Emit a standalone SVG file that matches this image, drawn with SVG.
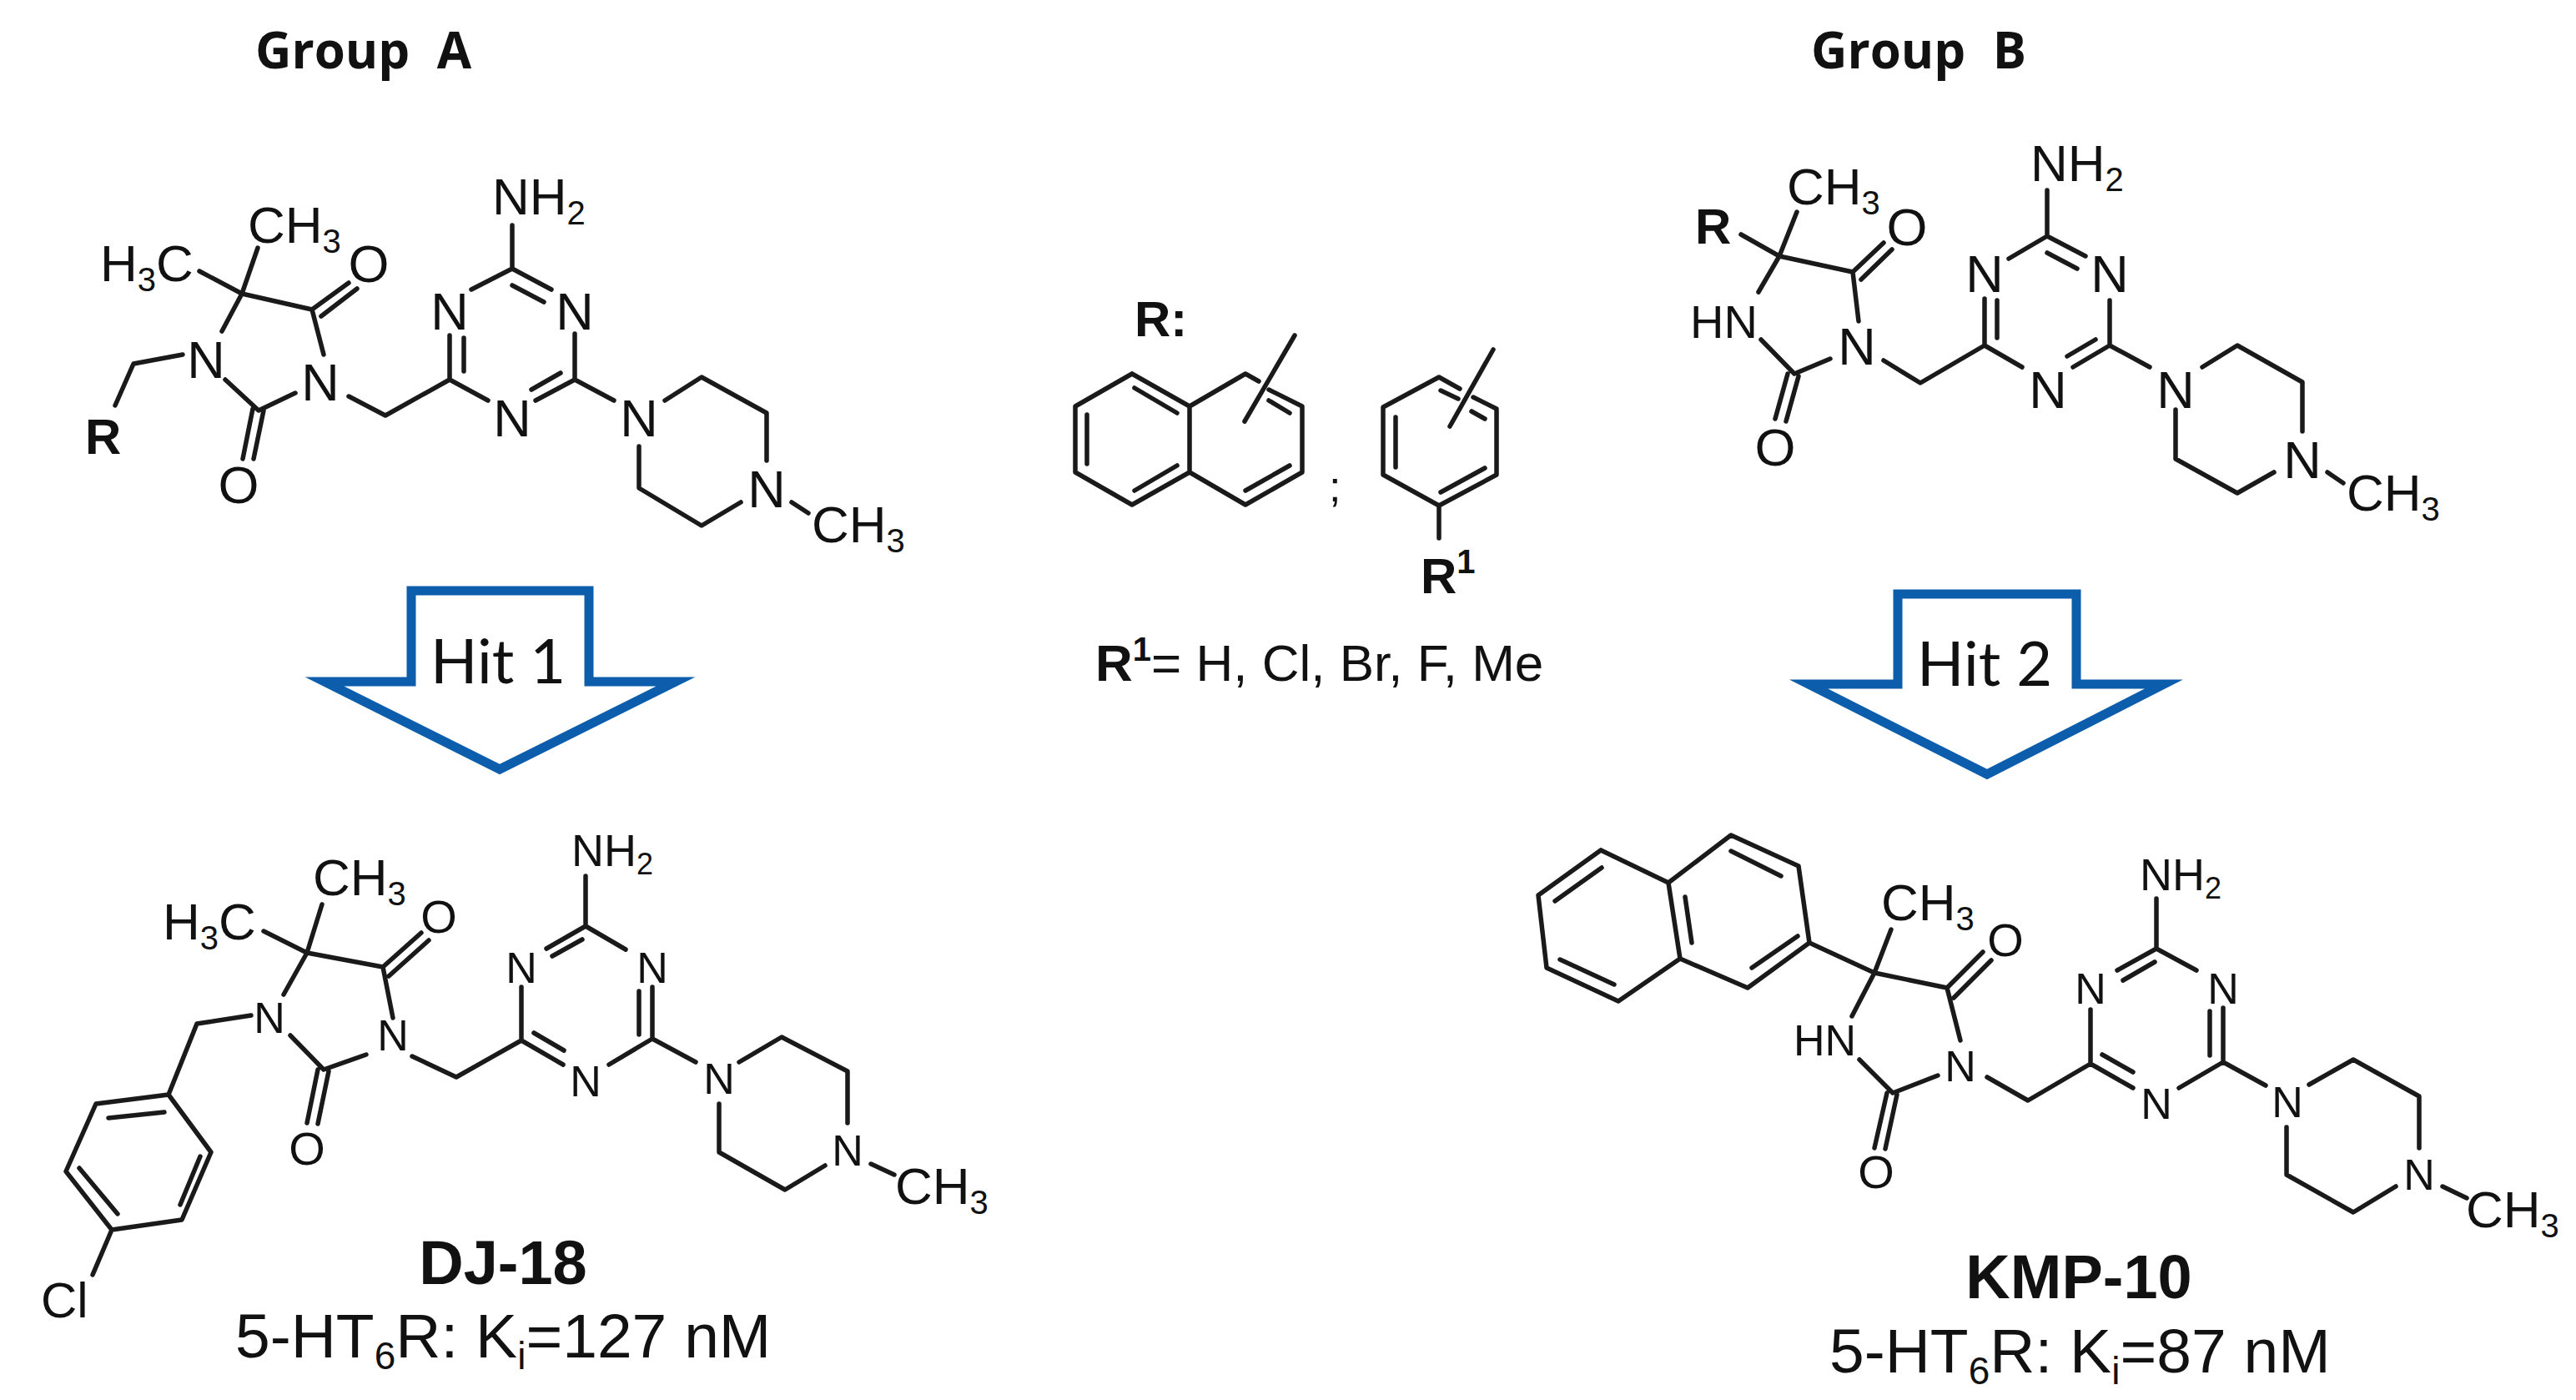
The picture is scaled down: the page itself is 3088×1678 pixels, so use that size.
<svg xmlns="http://www.w3.org/2000/svg" width="3088" height="1678" viewBox="0 0 3088 1678">
<style>
text{font-family:"Liberation Sans",Arial,sans-serif;fill:#111}
.b{fill:none;stroke:#1a1a1a;stroke-width:5.5;stroke-linecap:round;stroke-linejoin:round}
.a{fill:#fff;stroke:#0c5dab;stroke-width:11;stroke-linejoin:miter;stroke-miterlimit:10}
.title{font-family:"Open Sans",sans-serif;font-weight:700;font-size:60px;word-spacing:17px}
.hit{font-family:Lato,"Open Sans",sans-serif;font-size:74px}
.big{font-size:62px}.mid{font-size:54px}.sm{font-size:52px}.n58{font-size:63px;text-anchor:middle}.n48{font-size:52px;text-anchor:middle}.n52{font-size:56px;text-anchor:middle}
.r{font-weight:700;font-size:60px}
.name{font-weight:700;font-size:74px;text-anchor:middle}
.ki{font-size:75px}
.sub{font-size:40px}
.sub2{font-size:36px}
.subk{font-size:46px}
.lab{font-size:62px}
</style>
<rect width="3088" height="1678" fill="#fff"/>
<text class="title" x="306" y="82">Group A</text>
<text class="title" x="2171" y="82">Group B</text>
<g id="connectors">
<path id="arrow-hit1" class="a" d="M493 708H706V817H810L599 922L389 817H493Z"/>
<path id="arrow-hit2" class="a" d="M2275 712H2489V820H2594L2382 928L2168 820H2275Z"/>
</g>
<g id="hit-1"><text class="hit" x="516" y="819">Hit 1</text></g>
<g id="hit-2"><text class="hit" x="2298" y="822">Hit 2</text></g>
<g id="group-a-scaffold">
<path class="b" d="M290 352L239 325M290 352L309 297M290 352L266 397M270 455L310 492L354 471M388 425L374 371L290 352M374 371L418 339M385 379L428 346M303 490L291 550M316 492L304 550M219 425L160 436L138 486M418 475L462 498L539 455L539 402M556 405V445M539 455L585 480M642 480L689 455V400M672 447L637 467M565 347L614 322L661 347M614 342L652 362M614 322V270M736 480L689 455M797 480L841 452L919 495V552M888 602L841 630L766 585V535M949 602L969 615"/>
<text class="big" x="120" y="337">H<tspan class="sub" dy="12">3</tspan><tspan dy="-12">C</tspan></text>
<text class="big" x="297" y="291">CH<tspan class="sub" dy="12">3</tspan></text>
<text class="n58" x="442" y="338">O</text><text class="n58" x="286" y="603">O</text>
<text class="n58" x="247" y="453">N</text><text class="n58" x="384" y="480">N</text>
<text class="r" x="102" y="544">R</text>
<text class="n58" x="539" y="395">N</text><text class="n58" x="689" y="395">N</text><text class="n58" x="614" y="523">N</text>
<text class="big" x="590" y="257">NH<tspan class="sub" dy="12">2</tspan></text>
<text class="n58" x="766" y="523">N</text><text class="n58" x="919" y="608">N</text>
<text class="big" x="973" y="650">CH<tspan class="sub" dy="12">3</tspan></text>
</g>
<g id="r-substituents">
<text class="r" x="1360" y="403">R:</text>
<path class="b" d="M1357 448L1289 487V566L1357 605L1426 566L1493 605L1561 566V487L1521 467M1509 457L1493 448L1426 487L1357 448M1426 487V566M1360 465L1411 495M1303 497V556M1360 588L1411 558M1493 588L1546 558M1521 480L1546 495M1552 402L1492 505"/>
<text class="sm" x="1593" y="601">;</text>
<path class="b" d="M1750 466L1725 452L1658 488V569L1725 606L1794 569V490L1766 476M1673 500V560M1727 590L1780 561M1727 468L1748 478M1764 493L1780 502M1790 419L1738 511M1725 606V645"/>
<text class="r" x="1703" y="711">R<tspan class="sub" dy="-24" style="font-weight:700">1</tspan></text>
<text class="lab" x="1313" y="816"><tspan font-weight="700">R</tspan><tspan class="sub" font-weight="700" dy="-24">1</tspan><tspan dy="24">= H, Cl, Br, F, Me</tspan></text>
</g>
<g id="group-b-scaffold">
<path class="b" d="M2133 307L2087 281M2133 307L2154 254M2133 307L2108 350M2111 407L2151 448L2194 430M2228 385L2221 326L2133 307M2221 326L2258 291M2231 335L2268 299M2143 448L2128 502M2156 451L2141 505M2258 432L2302 459L2379 414V358M2394 360V405M2379 414L2424 440M2485 440L2529 414V360M2512 407L2478 427M2408 310L2454 283L2500 307M2454 303L2490 322M2454 283V228M2577 440L2529 414M2640 440L2682 414L2760 458V517M2726 566L2682 591L2608 550V491M2790 566L2809 579"/>
<text class="r" x="2032" y="292">R</text>
<text class="big" x="2142" y="245">CH<tspan class="sub" dy="12">3</tspan></text>
<text class="n58" x="2286" y="294">O</text><text class="n58" x="2128" y="558">O</text>
<text class="big" x="2026" y="405" style="font-size:56px">HN</text>
<text class="n58" x="2226" y="437">N</text>
<text class="n58" x="2379" y="350">N</text><text class="n58" x="2529" y="350">N</text><text class="n58" x="2455" y="489">N</text>
<text class="big" x="2434" y="217">NH<tspan class="sub" dy="12">2</tspan></text>
<text class="n58" x="2608" y="489">N</text><text class="n58" x="2760" y="573">N</text>
<text class="big" x="2813" y="612">CH<tspan class="sub" dy="12">3</tspan></text>
</g>
<g id="dj-18">
<path class="b" d="M368 1142L316 1116M368 1142L386 1084M368 1142L340 1192M348 1241L388 1282L439 1264M471 1220L459 1159L368 1142M459 1159L505 1118M466 1170L514 1127M381 1282L368 1346M394 1284L381 1347M301 1217L236 1227L202 1312L115 1323L79 1404L134 1474L218 1462L253 1381L202 1312M197 1333L130 1340M95 1400L141 1455M216 1444L240 1386M134 1474L111 1528M494 1266L547 1291L625 1247V1183M640 1238L676 1259M625 1247L675 1276M655 1137L702 1110L750 1138M698 1126L662 1146M782 1183V1245L730 1276M766 1188V1240M702 1110V1050M834 1273L782 1245M886 1273L937 1243L1016 1284V1346M989 1397L941 1426L862 1381V1323M1044 1395L1072 1408"/>
<text class="big" x="195" y="1126">H<tspan class="sub" dy="12">3</tspan><tspan dy="-12">C</tspan></text>
<text class="big" x="375" y="1073">CH<tspan class="sub" dy="12">3</tspan></text>
<text class="n52" x="526" y="1118">O</text><text class="n52" x="368" y="1396">O</text>
<text class="n48" x="323" y="1238">N</text><text class="n48" x="471" y="1259">N</text>
<text class="n48" x="625" y="1178">N</text><text class="n48" x="782" y="1178">N</text><text class="n48" x="702" y="1314">N</text>
<text class="mid" x="685" y="1038">NH<tspan class="sub2" dy="10">2</tspan></text>
<text class="n48" x="862" y="1311">N</text><text class="n48" x="1016" y="1397">N</text>
<text class="big" x="1073" y="1443">CH<tspan class="sub" dy="12">3</tspan></text>
<text x="49" y="1579" style="font-size:60px">Cl</text>
<text class="name" x="603" y="1539">DJ-18</text>
<text class="ki" x="282" y="1627">5-HT<tspan class="subk" dy="14">6</tspan><tspan dy="-14">R:  K</tspan><tspan class="subk" dy="14">i</tspan><tspan dy="-14">=127 nM</tspan></text>
</g>
<g id="kmp-10">
<path class="b" d="M1919 1019L1844 1073L1854 1160L1940 1200L2014 1149L2000 1058L1919 1019M2000 1058L2075 1001L2156 1038L2169 1130L2095 1184L2014 1149M1920 1040L1864 1080M1870 1150L1935 1180M2020 1075L2028 1130M2075 1020L2135 1050M2100 1160L2155 1122M2169 1130L2247 1166L2267 1114M2247 1166L2220 1218M2229 1270L2269 1310L2323 1289M2350 1247L2334 1184L2247 1166M2334 1184L2377 1141M2342 1196L2387 1151M2262 1310L2247 1376M2274 1312L2260 1377M2382 1291L2431 1319L2506 1275V1210M2520 1264L2557 1285M2506 1275L2557 1304M2538 1163L2585 1137L2633 1163M2583 1153L2545 1175M2665 1208V1273L2612 1304M2649 1212V1265M2585 1137V1077M2716 1301L2665 1273M2768 1300L2821 1270L2900 1314V1376M2872 1422L2821 1453L2741 1408V1351M2928 1422L2957 1436"/>
<text class="big" x="2255" y="1103">CH<tspan class="sub" dy="12">3</tspan></text>
<text class="n52" x="2404" y="1146">O</text><text class="n52" x="2249" y="1424">O</text>
<text class="sm" x="2150" y="1265">HN</text>
<text class="n48" x="2350" y="1296">N</text>
<text class="n48" x="2506" y="1203">N</text><text class="n48" x="2665" y="1203">N</text><text class="n48" x="2585" y="1341">N</text>
<text class="mid" x="2565" y="1067">NH<tspan class="sub2" dy="10">2</tspan></text>
<text class="n48" x="2742" y="1339">N</text><text class="n48" x="2900" y="1426">N</text>
<text class="big" x="2956" y="1471">CH<tspan class="sub" dy="12">3</tspan></text>
<text class="name" x="2492" y="1556">KMP-10</text>
<text class="ki" x="2193" y="1645">5-HT<tspan class="subk" dy="14">6</tspan><tspan dy="-14">R:  K</tspan><tspan class="subk" dy="14">i</tspan><tspan dy="-14">=87 nM</tspan></text>
</g>
</svg>
